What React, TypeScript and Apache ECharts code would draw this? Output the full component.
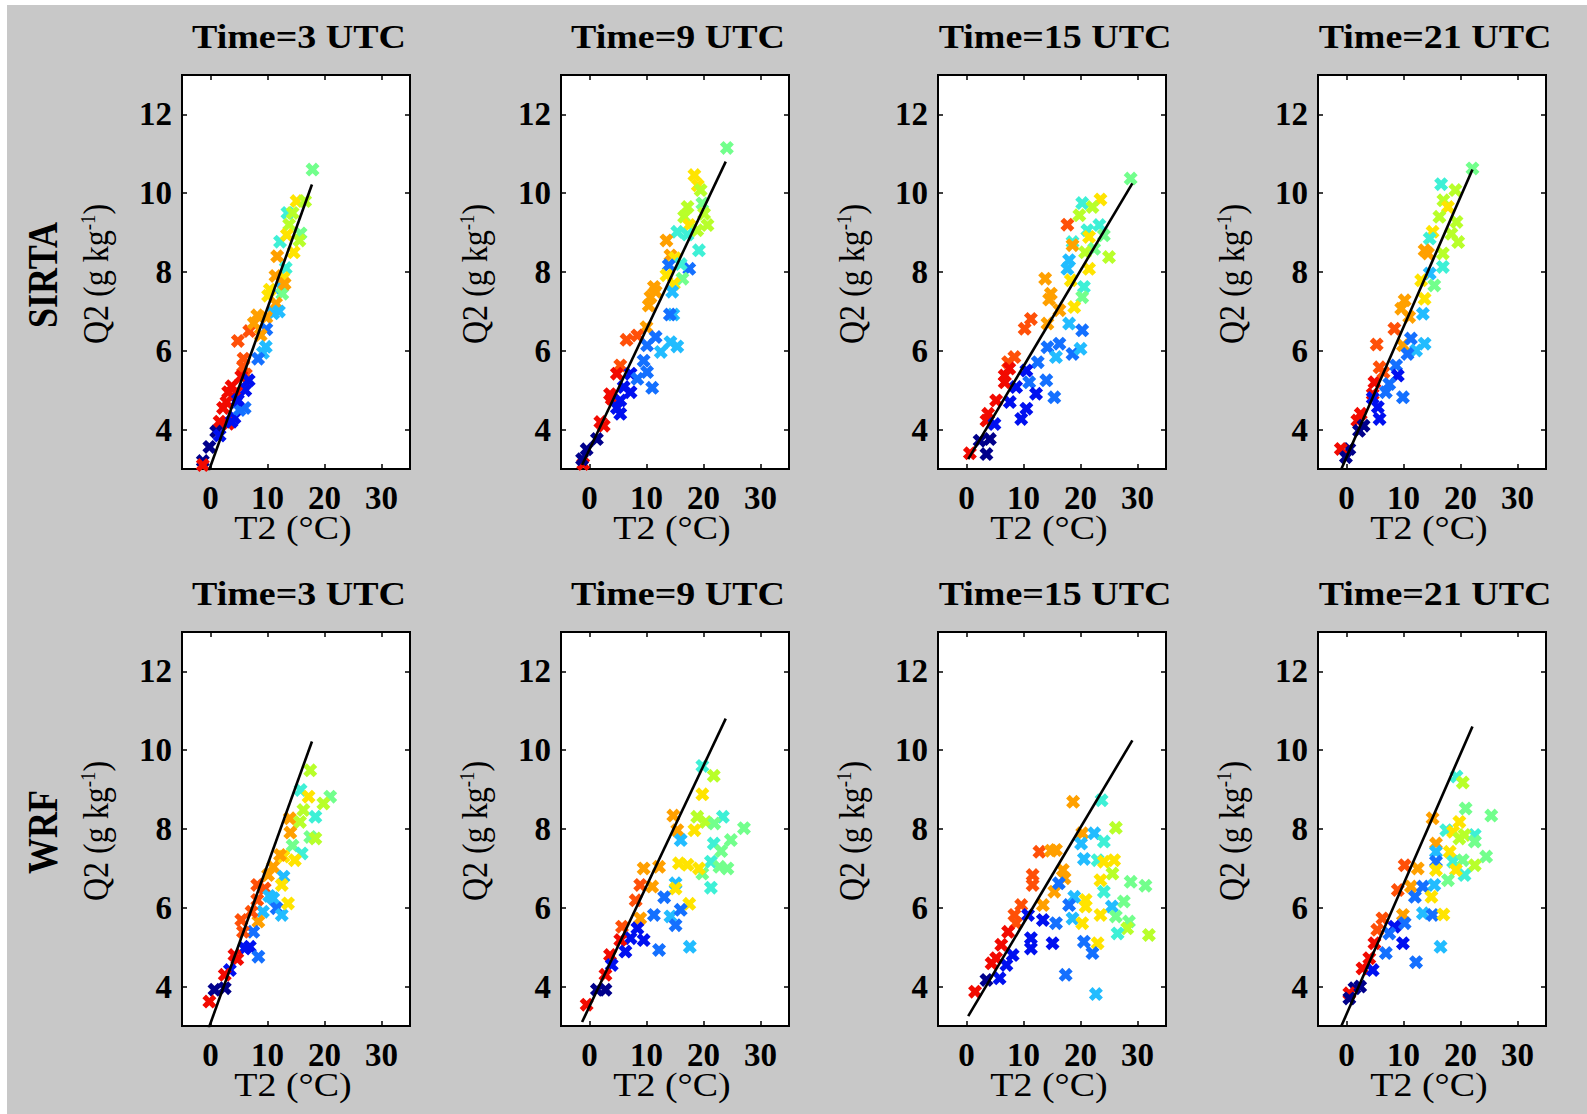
import React, { useEffect, useRef } from "react";
import * as echarts from "echarts";

// ---------------- DATA ----------------
// each point: [T2 (°C), Q2 (g/kg), colour class 0..10 (navy -> red)]
const timeLabels = ["3", "9", "15", "21"];
const rowNames = ["SIRTA", "WRF"];
const xTicks = [0, 10, 20, 30];
const yTicks = [4, 6, 8, 10, 12];

const sirta03 = [
  [17.9,10.6,5],[15.1,9.8,7],[16.6,9.8,6],[13.5,9.5,4],[14.4,9.5,6],[13.8,9.2,6],[15.8,8.98,5],[15.6,8.8,6],
  [12.2,8.77,4],[13.4,8.94,7],[14.6,8.5,7],[11.7,8.4,8],[13.2,8.1,4],[12.8,7.85,7],[12.4,7.6,3],[12.6,7.45,5],
  [10.4,7.55,7],[10.1,7.4,7],[11.5,7.2,8],[11,6.95,3],[8.2,6.9,8],[9.8,6.85,8],[6.8,6.5,9],[9.8,6.55,2],
  [8.8,6.4,8],[4.8,6.25,9],[9.7,6.1,3],[9.2,5.95,3],[8.35,5.8,2],[5.7,5.6,9],[6.2,5.4,9],[5.4,5.35,10],
  [6.7,5.25,1],[3.7,5.1,10],[6.1,5.0,1],[4.5,4.95,10],[3.1,4.95,10],[6.0,4.55,2],[4.5,4.7,1],[2.2,4.55,10],
  [4.2,4.3,1],[5.1,4.5,2],[1.6,4.2,10],[3.1,4.15,10],[3.7,4.2,1],[1.0,3.95,0],[-0.2,3.56,0],[-1.35,3.2,0],
  [-1.35,3.1,10],[1.6,3.85,1],[7.6,6.7,8],[5.8,5.8,9],[2.8,4.7,10],[4.8,4.75,1],[11.4,7.9,8],[12.0,7.0,3],[13.0,7.7,8]
];
const sirta09 = [
  [24.1,11.15,5],[18.4,10.46,7],[19,10.2,7],[19.5,10.08,6],[19.8,9.74,5],[17.2,9.65,6],[16.6,9.4,6],[20.1,9.48,6],
  [17.5,9.19,7],[20.7,9.19,6],[18.9,9.06,6],[15.4,9.02,4],[17.2,8.95,4],[13.5,8.8,8],[19.2,8.55,4],[14.2,8.42,8],
  [15,8.35,7],[17.5,8.08,2],[16,8.2,4],[13.9,8.17,2],[13.5,7.92,7],[16.3,7.83,5],[14.8,7.7,7],[14.5,7.5,3],
  [11.3,7.62,8],[10.7,7.36,8],[11.6,7.5,8],[10.4,7.15,8],[14.7,6.92,3],[14.1,6.92,2],[10,6.6,8],[6.5,6.28,9],
  [8.4,6.39,9],[11.6,6.35,2],[10.1,6.14,2],[14.2,6.22,3],[15.4,6.11,3],[12.5,5.97,3],[9.5,5.75,2],[10.1,5.46,2],
  [5.4,5.63,9],[4.8,5.42,10],[7.2,5.42,1],[8.4,5.29,2],[6,5.08,1],[7.2,4.95,1],[11,5.06,2],[3.6,4.9,10],
  [3.9,4.78,10],[5.4,4.74,1],[4.8,4.55,1],[5.4,4.4,1],[1.9,4.19,10],[2.5,4.1,10],[1.3,3.76,0],[-0.5,3.5,0],
  [-1.1,3.13,10],[-1.3,3.25,0]
];
const sirta15 = [
  [28.8,10.37,5],[20.3,9.75,4],[23.5,9.84,7],[22.1,9.65,6],[19.8,9.44,6],[17.7,9.2,9],[23.3,9.19,4],[21.2,9.06,4],
  [21.5,8.89,7],[24.1,8.93,5],[18.6,8.76,4],[18.6,8.68,8],[22.4,8.59,5],[25,8.38,6],[18,8.3,3],[20.8,8.5,6],
  [17.7,8.08,3],[21.5,8.08,7],[18.3,7.79,7],[20.6,7.62,4],[20.3,7.36,5],[13.8,7.83,8],[14.8,7.45,8],[14.5,7.3,8],
  [18.9,7.11,7],[16.3,7.03,8],[14.2,6.69,8],[11.3,6.81,9],[10.2,6.56,9],[18,6.69,3],[20.3,6.52,2],[14.2,6.09,2],
  [16.3,6.18,2],[15.7,5.84,3],[18.6,5.92,2],[20,6.05,3],[12.5,5.71,2],[8.4,5.84,9],[7.3,5.71,9],[6.7,5.37,10],
  [6.7,5.2,10],[7.5,5.55,10],[10.5,5.5,1],[8.7,5.08,1],[11,5.2,2],[14,5.25,2],[12.2,4.91,1],[15.4,4.82,2],
  [5.2,4.74,10],[3.8,4.4,10],[3.5,4.23,10],[7.6,4.7,1],[10.5,4.53,1],[9.6,4.27,1],[4.9,4.14,1],[4.1,3.76,0],
  [2.3,3.72,0],[3.5,3.38,0],[0.6,3.4,10]
];
const sirta21 = [
  [22.1,10.63,5],[16.6,10.23,4],[19.1,10.08,6],[17,9.82,6],[17.8,9.65,7],[16.3,9.4,6],[19.3,9.27,6],[15.1,9.02,7],
  [18.4,8.97,6],[14.6,8.85,4],[19.6,8.76,6],[13.7,8.55,8],[14.3,8.47,8],[16.9,8.47,6],[16.9,8.13,4],[14.6,7.96,3],
  [13.1,7.79,7],[15.4,7.66,5],[10.2,7.28,8],[13.7,7.32,7],[9.6,7.07,8],[13.4,6.94,3],[11,6.86,8],[8.4,6.56,9],
  [9.9,6.14,8],[5.3,6.16,9],[11.3,6.31,2],[13.7,6.18,3],[12.2,6.01,3],[10.7,5.92,2],[5.8,5.58,9],[4.9,5.2,10],
  [4.6,4.9,10],[6.5,5.45,9],[8.7,5.63,2],[9,5.37,1],[7.5,5.16,2],[6.9,4.95,2],[9.9,4.82,2],[5.5,4.57,1],
  [5.8,4.27,1],[4.6,4.8,1],[2.5,4.4,10],[1.9,4.23,10],[2.2,3.97,0],[0.5,3.51,0],[-1,3.51,10],[-0.1,3.3,0],[3.0,4.1,0]
];
const wrf03 = [
  [17.5,9.49,6],[15.8,8.99,4],[17.2,8.82,7],[21,8.82,5],[19.8,8.65,6],[16.3,8.48,6],[18.4,8.31,4],[13.9,8.27,8],
  [15.7,8.18,6],[14,7.91,8],[17.5,7.8,5],[18.4,7.76,6],[14.4,7.58,5],[16,7.38,4],[12.8,7.3,7],[14.8,7.21,7],
  [12.2,7.34,8],[11,7.04,8],[10.1,6.83,8],[12.8,6.79,3],[12.5,6.58,7],[8.2,6.58,9],[9.5,6.49,9],[8.2,6.2,9],
  [11,6.24,3],[11.6,5.99,2],[9.2,5.9,3],[12.5,5.82,3],[13.6,6.11,7],[8.4,5.65,8],[5.4,5.69,9],[7.5,5.39,2],
  [5.7,5.39,9],[6.9,5.01,1],[6,4.97,1],[8.4,4.76,2],[4.2,4.8,10],[4.7,4.7,10],[3.4,4.42,1],[2.5,4.3,10],
  [0.7,3.92,0],[2.5,3.96,0],[-0.2,3.62,10],[10.3,6.3,3],[7.2,5.9,9]
];
const wrf09 = [
  [19.8,9.6,4],[21.8,9.35,6],[19.8,8.88,7],[14.7,8.34,8],[18.9,8.31,6],[23.4,8.31,4],[20.4,8.18,6],[18.4,7.97,7],
  [15.4,7.97,8],[21.9,8.14,5],[27.1,8.02,5],[16,7.72,3],[21.8,7.63,4],[24.8,7.72,5],[23.1,7.44,5],[9.5,7.0,8],
  [12.2,7.04,8],[15.7,7.13,7],[17.2,7.09,7],[21.3,7.17,4],[22.8,7.04,5],[24.2,7.0,5],[19.8,6.87,5],[19.2,7.0,7],
  [8.9,6.58,9],[11,6.54,8],[15.1,6.62,3],[15.1,6.49,7],[21.3,6.51,4],[13.1,6.27,2],[8.1,6.19,9],[17.5,6.1,7],
  [11.3,5.82,2],[8.9,5.73,8],[14.2,5.78,3],[15.1,5.56,2],[16,5.95,2],[5.7,5.52,9],[8.4,5.48,1],[9.5,5.18,1],
  [7.2,5.23,1],[5.4,5.18,10],[12.2,4.93,2],[17.6,5.01,3],[6.3,4.89,1],[3.6,4.8,10],[3.9,4.55,1],[2.8,4.3,10],
  [2.8,3.92,0],[1.3,3.92,0],[-0.5,3.54,10]
];
const wrf15 = [
  [18.7,8.69,8],[23.7,8.73,4],[26.2,8.03,6],[20.3,7.89,8],[22.4,7.89,3],[24.1,7.68,4],[20.1,7.63,3],[12.8,7.42,9],
  [15.7,7.47,8],[14.8,7.45,8],[20.6,7.24,3],[23,7.21,4],[24.1,7.17,7],[25.9,7.21,7],[25.6,6.87,6],[23.5,6.7,7],
  [28.8,6.66,5],[31.4,6.56,5],[11.6,6.83,9],[11.6,6.58,9],[16.9,6.96,8],[17.2,6.75,8],[15.4,6.41,8],[16.2,6.62,2],
  [24.1,6.41,4],[9.6,6.07,9],[13.4,6.07,8],[18.9,6.28,3],[20.9,6.2,7],[27.6,6.16,5],[20.9,6.03,7],[18,6.07,2],
  [25.5,6.03,3],[8.4,5.82,9],[8.7,5.61,9],[10.8,5.82,1],[13.4,5.69,1],[15.7,5.61,2],[18.6,5.73,3],[20.3,5.61,7],
  [23.5,5.82,7],[26.2,5.78,5],[28.5,5.65,5],[28.2,5.48,6],[26.5,5.35,4],[32,5.31,6],[7.3,5.39,10],[11.3,5.23,1],
  [11.3,4.97,1],[15.1,5.1,1],[20.6,5.14,2],[23,5.1,7],[22.1,4.85,2],[6.1,5.06,10],[5.2,4.72,10],[8.1,4.8,1],
  [7,4.55,1],[4.4,4.59,10],[17.4,4.3,2],[3.5,4.17,0],[5.8,4.21,1],[1.5,3.87,10],[22.7,3.81,3]
];
const wrf21 = [
  [19.3,9.33,4],[20.4,9.18,6],[20.9,8.52,5],[25.4,8.34,5],[15.1,8.27,8],[19.8,8.18,7],[17.5,7.97,4],[18.7,7.93,7],
  [22.5,7.85,4],[19.8,7.76,6],[20.7,7.85,6],[22.5,7.68,5],[15.7,7.63,8],[15.7,7.42,3],[18.1,7.42,7],[24.5,7.3,5],
  [18.7,7.17,4],[20.4,7.21,5],[22.5,7.08,6],[10.2,7.08,9],[12.5,7.0,8],[15.7,7.17,2],[15.7,6.96,7],[20.7,6.83,4],
  [19.2,6.96,7],[17.8,6.7,5],[9,6.45,9],[11.3,6.54,8],[13.4,6.54,2],[15.4,6.58,3],[14.9,6.28,7],[12,6.28,2],
  [9.9,5.82,8],[10.2,5.61,2],[13.4,5.86,3],[15.1,5.82,2],[17,5.83,7],[6.3,5.73,9],[5.4,5.44,9],[8.4,5.52,1],
  [9.9,5.1,1],[7.5,5.35,2],[16.5,5.01,3],[4.9,5.1,10],[4,4.72,10],[6.9,4.85,2],[12.2,4.62,2],[2.8,4.46,10],
  [4.6,4.42,1],[1.4,3.96,0],[0.5,3.83,10],[0.5,3.7,0],[2.4,4.0,0]
];

// fitted SIRTA relation for each hour (drawn in both rows)
const fit03 = [[-0.3, 2.95], [17.8, 10.22]];
const fit09 = [[-1.3, 3.1], [23.9, 10.8]];
const fit15 = [[0.3, 3.25], [29.1, 10.25]];
const fit21 = [[-0.9, 3.0], [22.1, 10.6]];

const panelData = [
  [sirta03, sirta09, sirta15, sirta21],
  [wrf03, wrf09, wrf15, wrf21],
];
const fits = [fit03, fit09, fit15, fit21];

// ---------------- STYLE ----------------
const PALETTE = [
  "#00008c", "#0010f0", "#1470ff", "#22bcff", "#3ef0d6", "#72ff8c",
  "#b8ff2a", "#ffe400", "#ffa000", "#ff5008", "#f20a00",
];
const SERIF = '"Liberation Serif", "Times New Roman", serif';
const COL_LEFT = [182, 561, 938, 1318];
const ROW_TOP = [75, 632];
const PW = 228;
const PH = 394;
const XMARK =
  "path://M0,2.6 L2.6,0 L5,2.4 L7.4,0 L10,2.6 L7.6,5 L10,7.4 L7.4,10 L5,7.6 L2.6,10 L0,7.4 L2.4,5 Z";

export default function App() {
  const ref = useRef<HTMLDivElement>(null);
  useEffect(() => {
    const chart = echarts.init(ref.current!, null, {
      renderer: "svg",
      width: 1587,
      height: 1114,
    });
    const grid: any[] = [];
    const xAxis: any[] = [];
    const yAxis: any[] = [];
    const series: any[] = [];
    const graphic: any[] = [];

    const tickStyle = { color: "#000", width: 1.5 };
    for (let r = 0; r < 2; r++) {
      for (let c = 0; c < 4; c++) {
        const g = r * 4 + c;
        grid.push({
          left: COL_LEFT[c],
          top: ROW_TOP[r],
          width: PW,
          height: PH,
          show: true,
          backgroundColor: "#fff",
          borderColor: "#000",
          borderWidth: 2,
        });
        const xBase = {
          gridIndex: g,
          type: "value",
          min: -5,
          max: 35,
          splitLine: { show: false },
          axisLine: { show: false, onZero: false },
          axisTick: {
            show: true,
            inside: true,
            length: 5,
            lineStyle: tickStyle,
            customValues: xTicks,
          },
        };
        xAxis.push({
          ...xBase,
          position: "bottom",
          axisLabel: {
            customValues: xTicks,
            fontFamily: SERIF,
            fontSize: 33,
            fontWeight: "bold",
            color: "#000",
            margin: 12,
          },
        });
        xAxis.push({ ...xBase, position: "top", axisLabel: { show: false } });
        const yBase = {
          gridIndex: g,
          type: "value",
          min: 3,
          max: 13,
          splitLine: { show: false },
          axisLine: { show: false, onZero: false },
          axisTick: {
            show: true,
            inside: true,
            length: 5,
            lineStyle: tickStyle,
            customValues: yTicks,
          },
        };
        yAxis.push({
          ...yBase,
          position: "left",
          axisLabel: {
            customValues: yTicks,
            fontFamily: SERIF,
            fontSize: 33,
            fontWeight: "bold",
            color: "#000",
            margin: 10,
          },
        });
        yAxis.push({ ...yBase, position: "right", axisLabel: { show: false } });

        series.push({
          type: "scatter",
          xAxisIndex: 2 * g,
          yAxisIndex: 2 * g,
          data: panelData[r][c],
          symbol: XMARK,
          symbolSize: 14,
          itemStyle: {
            color: (p: any) => PALETTE[p.data[2]],
            opacity: 1,
          },
          z: 3,
        });
        series.push({
          type: "line",
          xAxisIndex: 2 * g,
          yAxisIndex: 2 * g,
          data: fits[c],
          showSymbol: false,
          symbol: "none",
          lineStyle: { color: "#000", width: 2.6 },
          z: 5,
        });

        const cx = COL_LEFT[c] + PW / 2;
        const cy = ROW_TOP[r] + PH / 2;
        // title
        graphic.push({
          type: "text",
          x: cx + 3,
          y: ROW_TOP[r] - 38,
          scaleX: 1.15,
          style: {
            text: `Time=${timeLabels[c]} UTC`,
            font: `bold 33px ${SERIF}`,
            fill: "#000",
            align: "center",
            verticalAlign: "middle",
            textAlign: "center",
            textVerticalAlign: "middle",
          },
        });
        // x axis name
        graphic.push({
          type: "text",
          x: cx - 3,
          y: ROW_TOP[r] + PH + 59,
          scaleX: 1.15,
          style: {
            text: "T2 (°C)",
            font: `33px ${SERIF}`,
            fill: "#000",
            align: "center",
            verticalAlign: "middle",
            textAlign: "center",
            textVerticalAlign: "middle",
          },
        });
        // y axis name
        graphic.push({
          type: "text",
          x: COL_LEFT[c] - 87,
          y: cy + 2,
          rotation: Math.PI / 2,
          scaleY: 1.15,
          style: {
            text: "Q2 (g kg{sup|-1})",
            font: `32px ${SERIF}`,
            fill: "#000",
            align: "center",
            verticalAlign: "middle",
            textAlign: "center",
            textVerticalAlign: "middle",
            rich: {
              sup: {
                font: `19px ${SERIF}`,
                fill: "#000",
                verticalAlign: "top",
              },
            },
          },
        });
      }
      graphic.push({
        type: "text",
        x: 43,
        y: ROW_TOP[r] + PH / 2 + 3,
        rotation: Math.PI / 2,
        scaleY: 1.16,
        style: {
          text: rowNames[r],
          font: `bold 36px ${SERIF}`,
          fill: "#000",
          align: "center",
          verticalAlign: "middle",
          textAlign: "center",
          textVerticalAlign: "middle",
        },
      });
    }

    chart.setOption({
      animation: false,
      backgroundColor: "transparent",
      grid,
      xAxis,
      yAxis,
      series,
      graphic: { elements: graphic },
    });
    return () => chart.dispose();
  }, []);

  return (
    <div
      style={{
        position: "fixed",
        left: 0,
        top: 0,
        width: 1587,
        height: 1114,
        background: "#fff",
        overflow: "hidden",
      }}
    >
      <div
        style={{
          position: "absolute",
          left: 7,
          top: 5,
          right: 0,
          bottom: 0,
          background: "#c8c8c8",
        }}
      />
      <div
        ref={ref}
        style={{ position: "absolute", left: 0, top: 0, width: 1587, height: 1114 }}
      />
    </div>
  );
}
